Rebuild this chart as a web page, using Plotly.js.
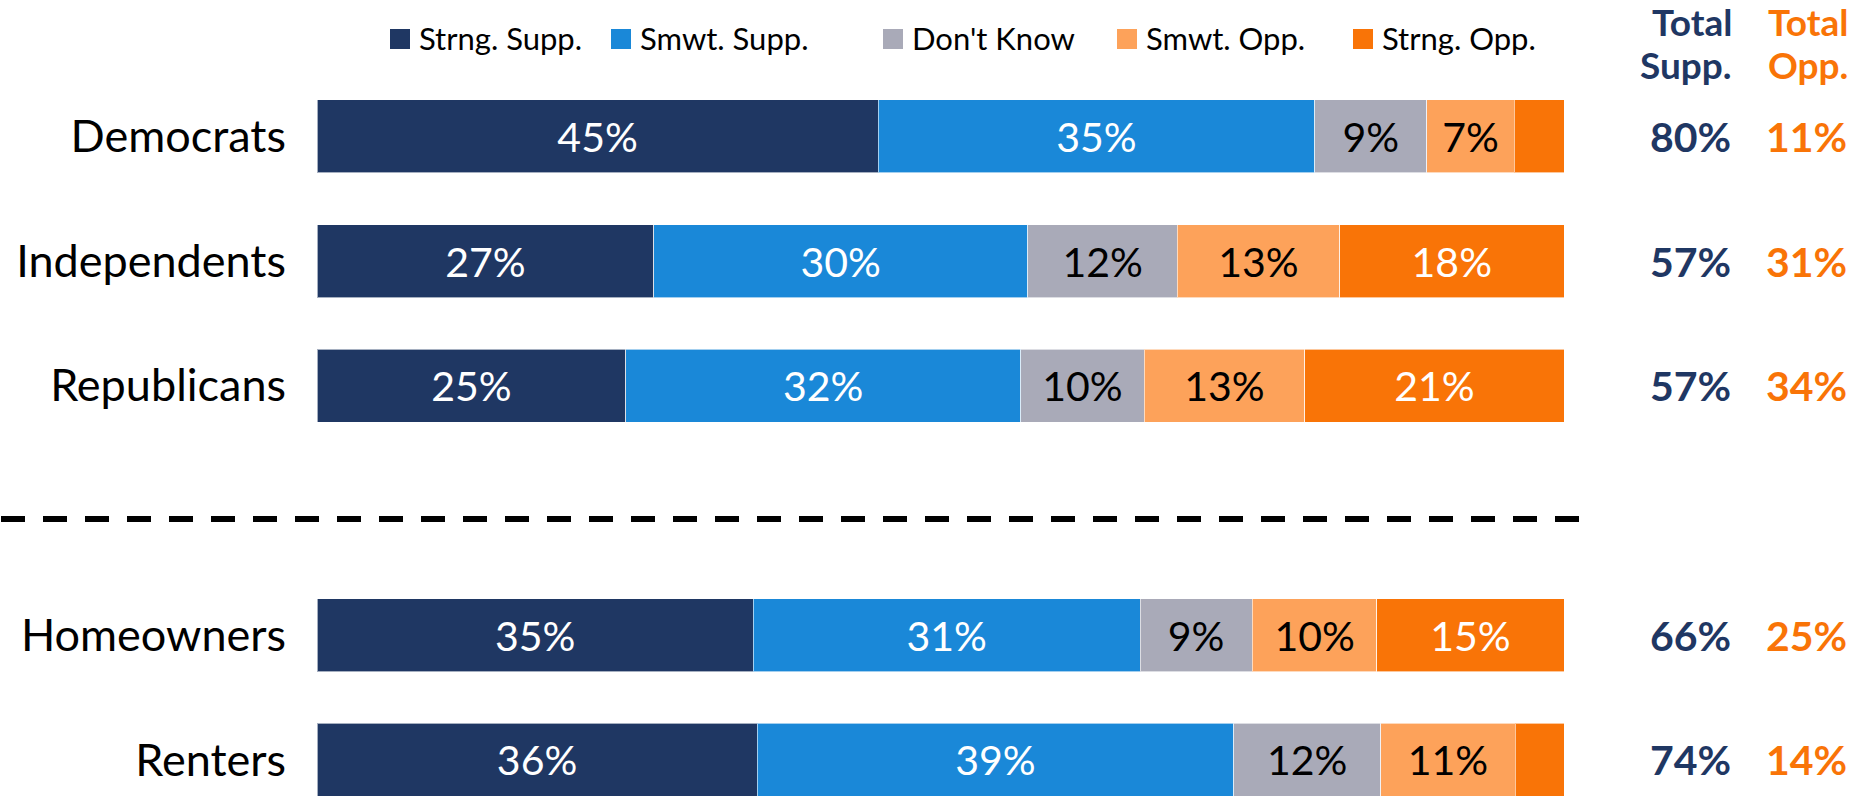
<!DOCTYPE html>
<html lang="en">
<head>
    <meta charset="UTF-8">
    <title>Support by group</title>
    <script src="https://cdn.plot.ly/plotly-3.0.1.min.js"></script>
    <style>
        body { margin: 0; padding: 0; background: #fff; }
        #chart { width: 1853px; height: 796px; }
    </style>
</head>
<body>
<div id="chart"></div>
<script>
// data
const groups = ['Democrats', 'Independents', 'Republicans', 'Homeowners', 'Renters'];
const rowOrder = ['Democrats', 'Independents', 'Republicans', ' ', 'Homeowners', 'Renters'];
const seriesNames = ['Strng. Supp.', 'Smwt. Supp.', "Don't Know", 'Smwt. Opp.', 'Strng. Opp.'];
const strngSupp = [45, 27, 25, 35, 36];
const smwtSupp = [35, 30, 32, 31, 39];
const dontKnow = [9, 12, 10, 9, 12];
const smwtOpp = [7, 13, 13, 10, 11];
const strngOpp = [4, 18, 21, 15, 4];
const totalSupp = [80, 57, 57, 66, 74];
const totalOpp = [11, 31, 34, 25, 14];

const colors = ['#1f3763', '#1a88d8', '#a9aab8', '#fda25a', '#f97407'];
const textColors = ['#ffffff', '#ffffff', '#000000', '#000000', '#ffffff'];
const FONT = 'Lato, "Open Sans", sans-serif';

const W = 1853, H = 796;
const M = { l: 317, r: 289, t: 74, b: 0 };
const plotW = W - M.l - M.r, plotH = H - M.t - M.b;
const px = x => (x - M.l) / plotW;
const py = y => 1 - (y - M.t) / plotH;

const values = [strngSupp, smwtSupp, dontKnow, smwtOpp, strngOpp];
// rounded shares do not always add to 100, the bars are scaled to full width
const rowSum = groups.map((g, j) => values.reduce((s, arr) => s + arr[j], 0));

const traces = values.map((vals, i) => ({
    type: 'bar',
    orientation: 'h',
    name: seriesNames[i],
    y: groups,
    x: vals.map((v, j) => v / rowSum[j] * 100),
    width: 0.585,
    marker: { color: colors[i], line: { color: 'rgba(255,255,255,0.6)', width: 1 } },
    text: vals.map(v => v >= 5 ? v + '%' : ''),
    textposition: 'inside',
    insidetextanchor: 'middle',
    constraintext: 'none',
    textfont: { family: FONT, size: 41, color: textColors[i] },
    hoverinfo: 'name+text'
}));

const annotations = [];
const shapes = [];

// totals on the right
groups.forEach((g, i) => {
    annotations.push({
        xref: 'paper', yref: 'y', x: px(1733), y: g, xanchor: 'right', yanchor: 'middle',
        text: totalSupp[i] + '%', showarrow: false,
        font: { family: FONT, size: 41, color: '#1f3763', weight: 'bold' }
    });
    annotations.push({
        xref: 'paper', yref: 'y', x: px(1849), y: g, xanchor: 'right', yanchor: 'middle',
        text: totalOpp[i] + '%', showarrow: false,
        font: { family: FONT, size: 41, color: '#f97407', weight: 'bold' }
    });
});

// column headers, one annotation per line to keep the tight line spacing
const headers = [
    { lines: ['Total', 'Supp.'], x: 1733, color: '#1f3763' },
    { lines: ['Total', 'Opp.'], x: 1849, color: '#f97407' }
];
headers.forEach(h => {
    h.lines.forEach((line, k) => {
        annotations.push({
            xref: 'paper', yref: 'paper', x: px(h.x), y: py(k === 0 ? -2 : 41),
            xanchor: 'right', yanchor: 'top', text: line, showarrow: false, borderpad: 0,
            font: { family: FONT, size: 37, color: h.color, weight: 'bold' }
        });
    });
});

// legend drawn by hand so the swatches match the original size
const legendX = [390, 611, 883, 1117, 1353];
seriesNames.forEach((name, i) => {
    shapes.push({
        type: 'rect', xref: 'paper', yref: 'paper',
        x0: px(legendX[i]), x1: px(legendX[i] + 20), y0: py(49), y1: py(29),
        fillcolor: colors[i], line: { width: 0 }
    });
    annotations.push({
        xref: 'paper', yref: 'paper', x: px(legendX[i] + 27), y: py(38),
        xanchor: 'left', yanchor: 'middle', text: name, showarrow: false,
        font: { family: FONT, size: 31, color: '#000000' }
    });
});

// dashed separator between party and housing groups
shapes.push({
    type: 'line', xref: 'paper', yref: 'paper',
    x0: px(1), x1: px(1580), y0: py(519), y1: py(519),
    line: { color: '#000000', width: 6, dash: '24px,18px' }
});

const layout = {
    width: W, height: H,
    margin: M,
    barmode: 'stack',
    showlegend: false,
    paper_bgcolor: '#ffffff',
    plot_bgcolor: '#ffffff',
    font: { family: FONT },
    xaxis: {
        range: [0, 100], showgrid: false, zeroline: false,
        showticklabels: false, ticks: '', fixedrange: true
    },
    yaxis: {
        type: 'category',
        categoryorder: 'array',
        categoryarray: rowOrder,
        range: [5.29, -0.5],
        showgrid: false, zeroline: false, ticks: '',
        ticklabelstandoff: 30,
        tickfont: { family: FONT, size: 45, color: '#000000' },
        fixedrange: true
    },
    annotations: annotations,
    shapes: shapes
};

Plotly.newPlot('chart', traces, layout, { displayModeBar: false, staticPlot: true });
</script>
</body>
</html>
